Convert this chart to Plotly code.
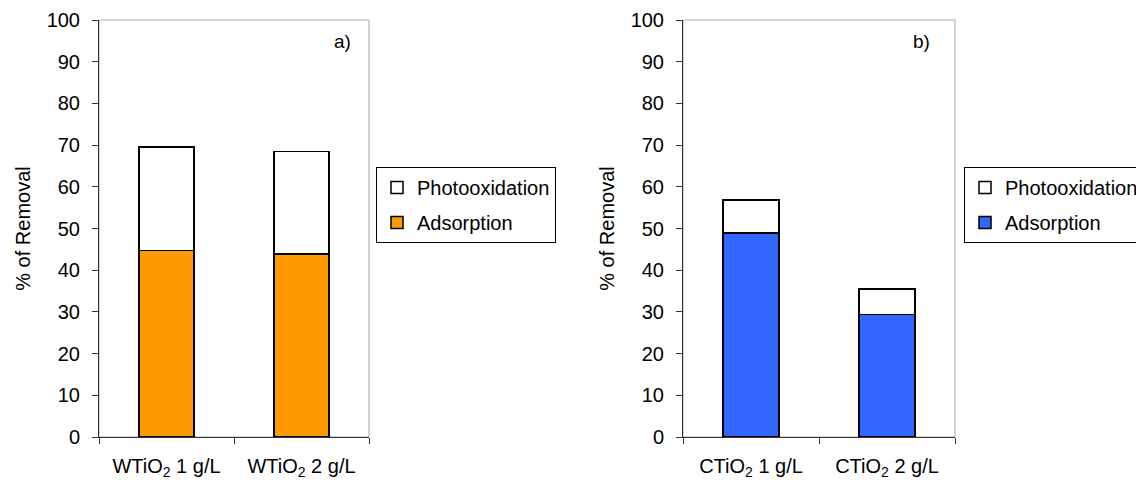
import plotly.graph_objects as go

cats_a = ["WTiO<sub>2</sub> 1 g/L", "WTiO<sub>2</sub> 2 g/L"]
ads_a = [44.7, 43.9]
photo_a = [24.9, 24.6]

cats_b = ["CTiO<sub>2</sub> 1 g/L", "CTiO<sub>2</sub> 2 g/L"]
ads_b = [48.9, 29.4]
photo_b = [7.9, 6.1]

FONT = "Liberation Sans, Arial, sans-serif"
LINE = dict(color="#000000", width=1.5)
BW = 0.41
W, H = 1144, 482
OFF = 8  # page body margin


def px(x):
    return (x - OFF) / W


def py(y):
    return 1 - (y - OFF) / H


fig = go.Figure()
fig.add_trace(go.Bar(x=cats_a, y=ads_a, name="Adsorption", marker=dict(color="#FF9900", line=LINE),
                     width=BW, xaxis="x", yaxis="y", legend="legend", legendgroup="a1", legendrank=2))
fig.add_trace(go.Bar(x=cats_a, y=photo_a, name="Photooxidation", marker=dict(color="#FFFFFF", line=LINE),
                     width=BW, xaxis="x", yaxis="y", legend="legend", legendgroup="a2", legendrank=1))
fig.add_trace(go.Bar(x=cats_b, y=ads_b, name="Adsorption", marker=dict(color="#3366FF", line=LINE),
                     width=BW, xaxis="x2", yaxis="y2", legend="legend2", legendgroup="b1", legendrank=2))
fig.add_trace(go.Bar(x=cats_b, y=photo_b, name="Photooxidation", marker=dict(color="#FFFFFF", line=LINE),
                     width=BW, xaxis="x2", yaxis="y2", legend="legend2", legendgroup="b2", legendrank=1))

ydom = [py(437), py(20)]
xaxis_common = dict(type="category", tickson="boundaries", ticks="outside", ticklen=6, automargin=False,
                    showline=True, linecolor="#333333", linewidth=1, tickcolor="#333333", ticklabelstandoff=11,
                    showgrid=False, tickfont=dict(size=20, color="#000000", family=FONT), fixedrange=True)
yaxis_common = dict(range=[0, 100], dtick=10, ticks="outside", ticklen=6, showline=True, automargin=False,
                    linecolor="#333333", linewidth=1, tickcolor="#333333", showgrid=False, zeroline=False,
                    ticklabelstandoff=8,
                    tickfont=dict(size=20, color="#000000", family=FONT),
                    title=dict(text="% of Removal", font=dict(size=20, color="#000000", family=FONT), standoff=10))

legend_common = dict(bgcolor="#FFFFFF", bordercolor="#000000", borderwidth=1,
                     font=dict(size=20, color="#000000", family=FONT), xanchor="left", yanchor="top",
                     traceorder="grouped", tracegroupgap=6)

frame = dict(color="#A6A6A6", width=1)

fig.update_layout(
    width=W, height=H,
    margin=dict(l=0, r=0, t=0, b=0),
    paper_bgcolor="#FFFFFF", plot_bgcolor="#FFFFFF",
    barmode="stack",
    font=dict(family=FONT, color="#000000"),
    xaxis=dict(domain=[px(99), px(369)], anchor="y", **xaxis_common),
    yaxis=dict(domain=ydom, anchor="x", **yaxis_common),
    xaxis2=dict(domain=[px(683), px(955)], anchor="y2", **xaxis_common),
    yaxis2=dict(domain=ydom, anchor="x2", **yaxis_common),
    legend=dict(x=px(376), y=py(167), **legend_common),
    legend2=dict(x=px(964), y=py(167), **legend_common),
    shapes=[
        dict(type="rect", xref="x domain", yref="y domain", x0=0, x1=1, y0=0, y1=1, line=frame, layer="below"),
        dict(type="rect", xref="x2 domain", yref="y2 domain", x0=0, x1=1, y0=0, y1=1, line=frame, layer="below"),
    ],
    annotations=[
        dict(text="a)", xref="paper", yref="paper", x=px(342), y=py(42), xanchor="center", yanchor="middle",
             showarrow=False, font=dict(size=19, color="#000000", family=FONT)),
        dict(text="b)", xref="paper", yref="paper", x=px(921), y=py(42), xanchor="center", yanchor="middle",
             showarrow=False, font=dict(size=19, color="#000000", family=FONT)),
    ],
    showlegend=True,
)

fig.write_html("out.html")
